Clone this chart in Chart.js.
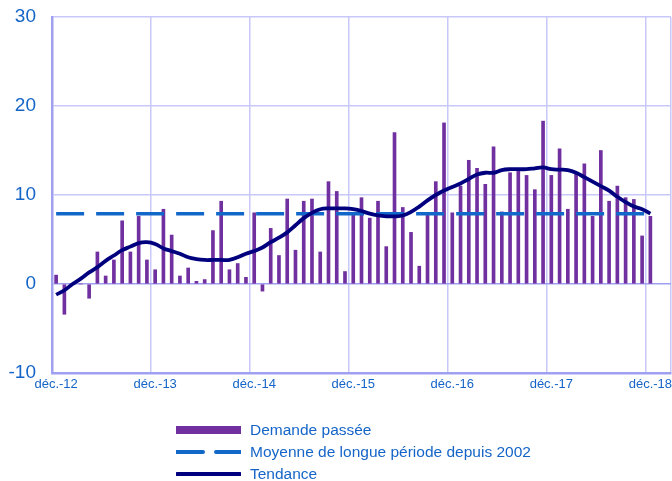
<!DOCTYPE html>
<html>
<head>
<meta charset="utf-8">
<script src="https://cdn.jsdelivr.net/npm/chart.js@4/dist/chart.umd.min.js"></script>
<style>
  html, body { margin: 0; padding: 0; background: #fff; }
  #wrap { position: relative; width: 672px; height: 481px; overflow: hidden; }
  #legend { position: absolute; left: 176px; top: 419px; font-family: "Liberation Sans", Arial, sans-serif;
            font-size: 15.5px; color: #1565c8; }
  #legend .row { height: 22px; display: flex; align-items: center; }
  #legend svg { margin-right: 9px; }
</style>
</head>
<body>
<div id="wrap">
  <canvas id="chart" width="672" height="481"></canvas>
  <div id="legend"></div>
</div>
<script>
// mois affichés sur l'axe (un libellé tous les 12 mois)
const moisNoms = ['janv.', 'févr.', 'mars', 'avr.', 'mai', 'juin', 'juil.', 'août', 'sept.', 'oct.', 'nov.', 'déc.'];
const nbCategories = 75; // déc.-12 .. févr.-19 (axe)

// demande passée, déc.-12 -> déc.-18
const demande = [
  1.0, -3.4, 0.0, 0.0, -1.6, 3.6, 0.9, 2.7, 7.1, 3.6, 7.6, 2.7,
  1.6, 8.4, 5.5, 0.9, 1.8, 0.3, 0.5, 6.0, 9.3, 1.6, 2.3, 0.75,
  8.0, -0.8, 6.25, 3.2, 9.55, 3.8, 9.3, 9.55, 3.6, 11.5, 10.4, 1.4,
  8.0, 9.7, 7.4, 9.3, 4.2, 17.0, 8.6, 5.8, 2.0, 7.9, 11.5, 18.1,
  8.0, 11.0, 13.9, 13.0, 11.2, 15.4, 8.1, 12.5, 13.0, 12.2, 10.6, 18.3,
  12.2, 15.2, 8.4, 12.5, 13.5, 7.6, 15.0, 9.3, 11.0, 9.7, 9.5, 5.4,
  7.6
];

// tendance
const tendance = [
  -1.2, -0.7, 0.0, 0.6, 1.3, 1.9, 2.6, 3.2, 3.8, 4.2, 4.6, 4.7,
  4.5, 4.0, 3.7, 3.4, 3.0, 2.8, 2.7, 2.7, 2.7, 2.7, 3.0, 3.4,
  3.7, 4.1, 4.7, 5.2, 5.8, 6.6, 7.4, 8.0, 8.4, 8.5, 8.5, 8.5,
  8.4, 8.2, 7.9, 7.7, 7.6, 7.6, 7.7, 8.1, 8.7, 9.4, 10.0, 10.5,
  10.9, 11.3, 11.8, 12.3, 12.5, 12.5, 12.8, 12.9, 12.9, 12.9, 13.0, 13.1,
  12.9, 12.85, 12.8, 12.5, 12.0, 11.5, 11.0, 10.5, 9.8, 9.2, 8.7, 8.4,
  7.9
];

// moyenne de longue période depuis 2002
const moyenneLongue = 7.9;

const yTicks = [-10, 0, 10, 20, 30];

const categories = [];
for (let i = 0; i < nbCategories; i++) {
  const m = (11 + i) % 12;
  const an = 12 + Math.floor((11 + i) / 12);
  categories.push(moisNoms[m] + '-' + an);
}
const moyenne = categories.map((c, i) => i < demande.length ? moyenneLongue : null);

const bleuTexte = '#1565c8';
const grille = '#c8c8fa';
const axe = '#a0a0f0';

new Chart(document.getElementById('chart'), {
  data: {
    labels: categories,
    datasets: [
      {type: 'line', label: 'Tendance', data: tendance, borderColor: '#00007f', borderWidth: 3.8,
       pointRadius: 0, tension: 0.4, order: 1},
      {type: 'line', label: 'Moyenne de longue période depuis 2002', data: moyenne, borderColor: '#1268c9',
       borderWidth: 3.5, borderDash: [28, 12], pointRadius: 0, order: 2},
      {type: 'bar', label: 'Demande passée', data: demande, backgroundColor: '#7030a0',
       barThickness: 3, order: 3}
    ]
  },
  options: {
    responsive: false,
    animation: false,
    layout: {padding: {top: 17, right: 1, bottom: 81, left: 0}},
    plugins: {legend: {display: false}, tooltip: {enabled: false}},
    scales: {
      x: {
        offset: true,
        grid: {
          offset: true,
          drawTicks: false,
          lineWidth: 1.5,
          color: ctx => (ctx.tick === undefined || ctx.index % 12 === 0) ? grille : 'transparent'
        },
        border: {color: axe, width: 2.5},
        ticks: {
          autoSkip: false, maxRotation: 0, padding: 4, color: bleuTexte,
          font: {family: '"Liberation Sans", Arial, sans-serif', size: 13},
          callback: (v, i) => i % 12 === 0 ? categories[i] : ''
        },
        afterFit: s => { s.height = 27; s.paddingLeft = 0; s.paddingRight = 0; }
      },
      y: {
        min: -10, max: 30,
        afterBuildTicks: s => { s.ticks = yTicks.map(v => ({value: v})); },
        grid: {
          drawTicks: false,
          lineWidth: 1.5,
          color: ctx => ctx.tick && ctx.tick.value === 0 ? axe : grille
        },
        border: {color: axe, width: 2.5},
        ticks: {
          padding: 16, color: bleuTexte,
          font: {family: '"Liberation Sans", Arial, sans-serif', size: 19}
        },
        afterFit: s => { s.width = 52; s.paddingTop = 0; s.paddingBottom = 0; }
      }
    }
  }
});

// légende
const legendItems = [
  {label: 'Demande passée', svg: '<rect x="0" y="7" width="65" height="8" fill="#7030a0"/>'},
  {label: 'Moyenne de longue période depuis 2002',
   svg: '<line x1="0" y1="11" x2="65" y2="11" stroke="#1268c9" stroke-width="4" stroke-dasharray="27,13" stroke-linecap="round"/>'},
  {label: 'Tendance', svg: '<line x1="1" y1="11" x2="64" y2="11" stroke="#00007f" stroke-width="4" stroke-linecap="round"/>'}
];
document.getElementById('legend').innerHTML = legendItems.map(it =>
  '<div class="row"><svg width="65" height="22">' + it.svg + '</svg><span>' + it.label + '</span></div>'
).join('');
</script>
</body>
</html>
